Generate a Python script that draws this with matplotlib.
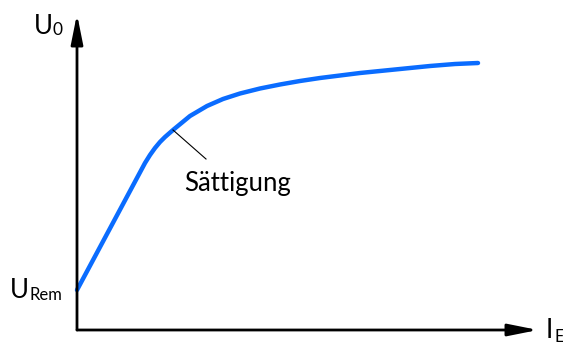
import matplotlib
matplotlib.use("Agg")
import matplotlib.pyplot as plt

plt.rcParams['font.family'] = ['Lato', 'DejaVu Sans']

# magnetisation curve of the generator: field current I_E vs. no-load voltage U_0
i_e = [0, 68, 73, 78, 83, 88, 96, 113, 130, 146, 163, 183, 203, 223, 243,
       263, 283, 303, 323, 353, 378, 401]
u_0 = [40, 167, 175, 182, 188, 193, 200, 214, 224, 231, 236.5, 241.5, 245.5,
       249, 252, 254.5, 257, 259, 261, 264, 266, 267]

# saturation marker: point on the curve and end of the leader line
sat_point = (96, 200)
sat_label = (129, 171)
sat_text = "Sättigung"

fig = plt.figure(figsize=(5.63, 3.45), dpi=100)
ax = fig.add_axes([0, 0, 1, 1])
ax.set_xlim(-77, 486)
ax.set_ylim(-15, 330)
ax.axis('off')

# axes with arrow heads
arrow = dict(arrowstyle='-|>,head_length=1.0,head_width=0.2', color='black',
             lw=2, shrinkA=0, shrinkB=0, mutation_scale=18)
ax.annotate('', xy=(0, 316), xytext=(0, 0), arrowprops=arrow)
ax.annotate('', xy=(461, 0), xytext=(0, 0), arrowprops=arrow)

ax.plot(i_e, u_0, color='#0A6CFF', lw=3.2, solid_capstyle='round',
        solid_joinstyle='round')

# leader line and label
ax.plot([sat_point[0], sat_label[0]], [sat_point[1], sat_label[1]],
        color='black', lw=0.8)
ax.text(107, 147, sat_text, fontsize=18.5, ha='left', va='center')

# axis labels with subscripts
ax.text(-43, 304, 'U', fontsize=18.5, ha='left', va='center')
ax.text(-25, 300, '0', fontsize=12.5, ha='left', va='center')
ax.text(-67, 39, 'U', fontsize=18.5, ha='left', va='center')
ax.text(-48, 35, 'Rem', fontsize=12, ha='left', va='center')
ax.text(469, -1, 'I', fontsize=18.5, ha='left', va='center')
ax.text(477, -7, 'E', fontsize=12, ha='left', va='center')

fig.savefig('out.png', dpi=100)
